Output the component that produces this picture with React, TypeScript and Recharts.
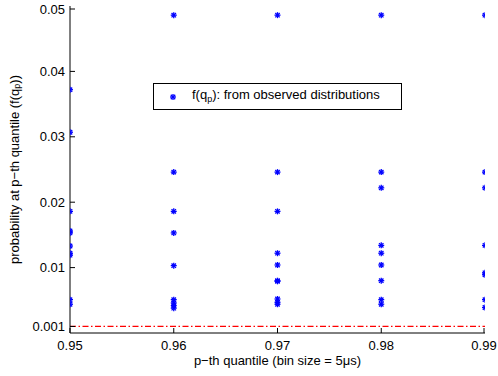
import {
  ScatterChart,
  Scatter,
  XAxis,
  YAxis,
  ReferenceLine,
  Legend,
  Label,
} from 'recharts';

const quantiles = [0.95, 0.96, 0.97, 0.98, 0.99];
const probsQ95 = [0.0372, 0.0307, 0.0186, 0.0156, 0.0153, 0.0133, 0.0122, 0.0119, 0.0051, 0.0044];
const probsQ96 = [0.0486, 0.0246, 0.0186, 0.0153, 0.0103, 0.0051, 0.0046, 0.0042, 0.0038];
const probsQ97 = [0.0486, 0.0246, 0.0186, 0.0122, 0.0104, 0.008, 0.0079, 0.0052, 0.0047, 0.0044];
const probsQ98 = [0.0486, 0.0246, 0.0222, 0.0134, 0.0122, 0.0104, 0.008, 0.0051, 0.0044];
const probsQ99 = [0.0486, 0.0246, 0.0222, 0.0134, 0.0092, 0.0089, 0.0051, 0.0039];
const threshold = 0.001;

const xTicks = [0.95, 0.96, 0.97, 0.98, 0.99];
const yTicks = [0.001, 0.01, 0.02, 0.03, 0.04, 0.05];

const FONT = '"Liberation Sans", Arial, Helvetica, sans-serif';
const BLUE = '#0000ff';

const columns = [probsQ95, probsQ96, probsQ97, probsQ98, probsQ99];
const points = columns.flatMap((vals, i) => vals.map((p) => ({ q: quantiles[i], p })));

function Star({ cx, cy }: any) {
  if (cx == null || cy == null) return null;
  const r = 3;
  const d = 2.2;
  return (
    <g stroke={BLUE} strokeWidth={1.3}>
      <line x1={cx - r} y1={cy} x2={cx + r} y2={cy} />
      <line x1={cx} y1={cy - r} x2={cx} y2={cy + r} />
      <line x1={cx - d} y1={cy - d} x2={cx + d} y2={cy + d} />
      <line x1={cx - d} y1={cy + d} x2={cx + d} y2={cy - d} />
    </g>
  );
}

function BottomTick({ x, y, payload }: any) {
  const axisY = y - 6;
  return (
    <g>
      <line x1={x} x2={x} y1={axisY} y2={axisY - 5} stroke="#000" />
      <text x={x} y={y + 10.5} textAnchor="middle" fontSize={13} fontFamily={FONT} fill="#000">
        {payload.value}
      </text>
    </g>
  );
}

function LeftTick({ x, y, payload }: any) {
  const axisX = x + 5;
  return (
    <g>
      <line x1={axisX} x2={axisX + 5} y1={y} y2={y} stroke="#000" />
      <text x={x} y={y + 4.5} textAnchor="end" fontSize={13} fontFamily={FONT} fill="#000">
        {payload.value}
      </text>
    </g>
  );
}

function TopTick({ x, y }: any) {
  return <line x1={x} x2={x} y1={y} y2={y + 5} stroke="#000" />;
}

function RightTick({ x, y }: any) {
  return <line x1={x} x2={x - 5} y1={y} y2={y} stroke="#000" />;
}

function renderYLabel({ viewBox }: any) {
  const cx = 14;
  const cy = viewBox.y + viewBox.height / 2;
  return (
    <text
      x={cx}
      y={cy}
      transform={`rotate(-90 ${cx} ${cy})`}
      textAnchor="middle"
      dominantBaseline="central"
      fontSize={13}
      fontFamily={FONT}
      fill="#000"
    >
      probability at p−th quantile (f(q
      <tspan fontSize={9} dy={3}>p</tspan>
      <tspan dy={-3}>))</tspan>
    </text>
  );
}

function renderLegend() {
  return (
    <div
      style={{
        width: 247,
        height: 25,
        border: '1.5px solid #000',
        background: '#fff',
        position: 'relative',
        fontFamily: FONT,
        fontSize: 13,
        color: '#000',
      }}
    >
      <svg width={12} height={12} style={{ position: 'absolute', left: 13, top: 7 }}>
        <Star cx={6} cy={6} />
      </svg>
      <span style={{ position: 'absolute', left: 38, top: 3, whiteSpace: 'nowrap' }}>
        f(q<sub style={{ fontSize: 9, verticalAlign: -3 }}>p</sub>): from observed distributions
      </span>
    </div>
  );
}

export default function App() {
  return (
    <div style={{ position: 'absolute', left: 0, top: 0, width: 498, height: 376, background: '#fff' }}>
      <ScatterChart width={498} height={376} margin={{ top: 6, right: 13, left: 0, bottom: 0 }}>
        <XAxis
          dataKey="q"
          type="number"
          domain={[0.95, 0.99]}
          ticks={xTicks}
          height={43}
          tickSize={0}
          tickMargin={6}
          tick={BottomTick}
          axisLine={{ stroke: '#000' }}
          allowDataOverflow
        >
          <Label
            value="p−th quantile (bin size = 5μs)"
            position="insideBottom"
            offset={11}
            fontSize={13}
            fontFamily={FONT}
            fill="#000"
          />
        </XAxis>
        <XAxis
          xAxisId="top"
          orientation="top"
          type="number"
          domain={[0.95, 0.99]}
          ticks={xTicks}
          height={0}
          tickSize={0}
          tickMargin={0}
          tick={TopTick}
          axisLine={{ stroke: '#000' }}
        />
        <YAxis
          dataKey="p"
          type="number"
          domain={[0, 0.05]}
          ticks={yTicks}
          width={70}
          tickSize={0}
          tickMargin={5}
          tick={LeftTick}
          axisLine={{ stroke: '#000' }}
          allowDataOverflow
        >
          <Label content={renderYLabel} />
        </YAxis>
        <YAxis
          yAxisId="right"
          orientation="right"
          type="number"
          domain={[0, 0.05]}
          ticks={yTicks}
          width={0}
          tickSize={0}
          tickMargin={0}
          tick={RightTick}
          axisLine={{ stroke: '#000' }}
        />
        <ReferenceLine
          y={threshold}
          stroke="#ff0000"
          strokeWidth={1.2}
          strokeDasharray="6 2.5 1.5 2.5"
        />
        <Legend
          layout="vertical"
          align="center"
          verticalAlign="middle"
          content={renderLegend}
          wrapperStyle={{ left: 153, top: 83, width: 250 }}
        />
        <Scatter data={points} shape={Star} isAnimationActive={false} />
      </ScatterChart>
    </div>
  );
}
